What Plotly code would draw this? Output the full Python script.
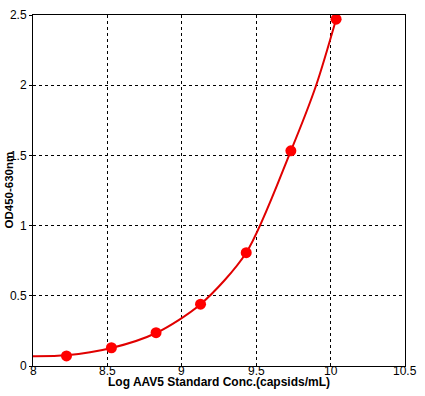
import plotly.graph_objects as go

# Standard points (log concentration, OD)
log_conc = [8.225, 8.527, 8.827, 9.126, 9.433, 9.733, 10.037]
od_values = [0.072, 0.130, 0.237, 0.440, 0.807, 1.533, 2.470]

# Fitted curve
curve_x = [8.0, 8.225, 8.527, 8.827, 9.126, 9.433, 9.733, 9.903, 10.037]
curve_y = [0.070, 0.076, 0.128, 0.235, 0.440, 0.807, 1.533, 2.0, 2.470]

x_ticks = [8, 8.5, 9, 9.5, 10, 10.5]
x_tick_labels = ["8", "8.5", "9", "9.5", "10", "10.5"]
y_ticks = [0, 0.5, 1, 1.5, 2, 2.5]
y_tick_labels = ["0", "0.5", "1", "1.5", "2", "2.5"]

x_title = "Log AAV5 Standard Conc.(capsids/mL)"
y_title = "OD450-630nm"

FONT = "Liberation Sans, Arial, sans-serif"

fig = go.Figure()
fig.add_trace(go.Scatter(
    x=curve_x, y=curve_y, mode="lines",
    line=dict(color="#E00000", width=2, shape="spline", smoothing=0.8),
    hoverinfo="skip", showlegend=False,
))
fig.add_trace(go.Scatter(
    x=log_conc, y=od_values, mode="markers",
    marker=dict(color="#FF0000", size=11, line=dict(width=0)),
    showlegend=False,
))

axis_common = dict(
    showline=True, mirror=True, linecolor="black", linewidth=1,
    showgrid=True, gridcolor="black", gridwidth=1, griddash="3px,3px",
    zeroline=False, tickcolor="black",
    tickfont=dict(family=FONT, size=12, color="black"),
)

# x tick labels are drawn as annotations (tighter to the axis than plotly's default)
fig.update_xaxes(range=[8, 10.5], tickvals=x_ticks, ticks="", showticklabels=False,
                 **axis_common)
fig.update_yaxes(range=[0, 2.5], tickvals=y_ticks, ticktext=y_tick_labels,
                 ticks="outside", ticklen=3, **axis_common)

annotations = [
    dict(text=lbl, xref="x", yref="paper", x=v, y=0, xanchor="center", yanchor="top",
         yshift=4, showarrow=False, font=dict(family=FONT, size=12, color="black"))
    for v, lbl in zip(x_ticks, x_tick_labels)
]
annotations += [
    dict(text="<b>" + x_title + "</b>", xref="paper", yref="paper", x=0.5, y=0,
         xanchor="center", yanchor="top", yshift=-7, showarrow=False,
         font=dict(family=FONT, size=12, color="black")),
    dict(text="<b>" + y_title + "</b>", xref="paper", yref="paper", x=0, y=0.5,
         xanchor="center", yanchor="middle", xshift=-25, textangle=-90, showarrow=False,
         font=dict(family=FONT, size=11.5, color="black")),
]

fig.update_layout(
    width=425, height=396,
    margin=dict(l=33, r=20, t=15, b=30, autoexpand=False),
    paper_bgcolor="white", plot_bgcolor="white",
    annotations=annotations,
)

fig.write_html(
    "out.html",
    config={"displayModeBar": False},
    post_script="document.body.style.margin='0';document.body.style.overflow='hidden';",
)
